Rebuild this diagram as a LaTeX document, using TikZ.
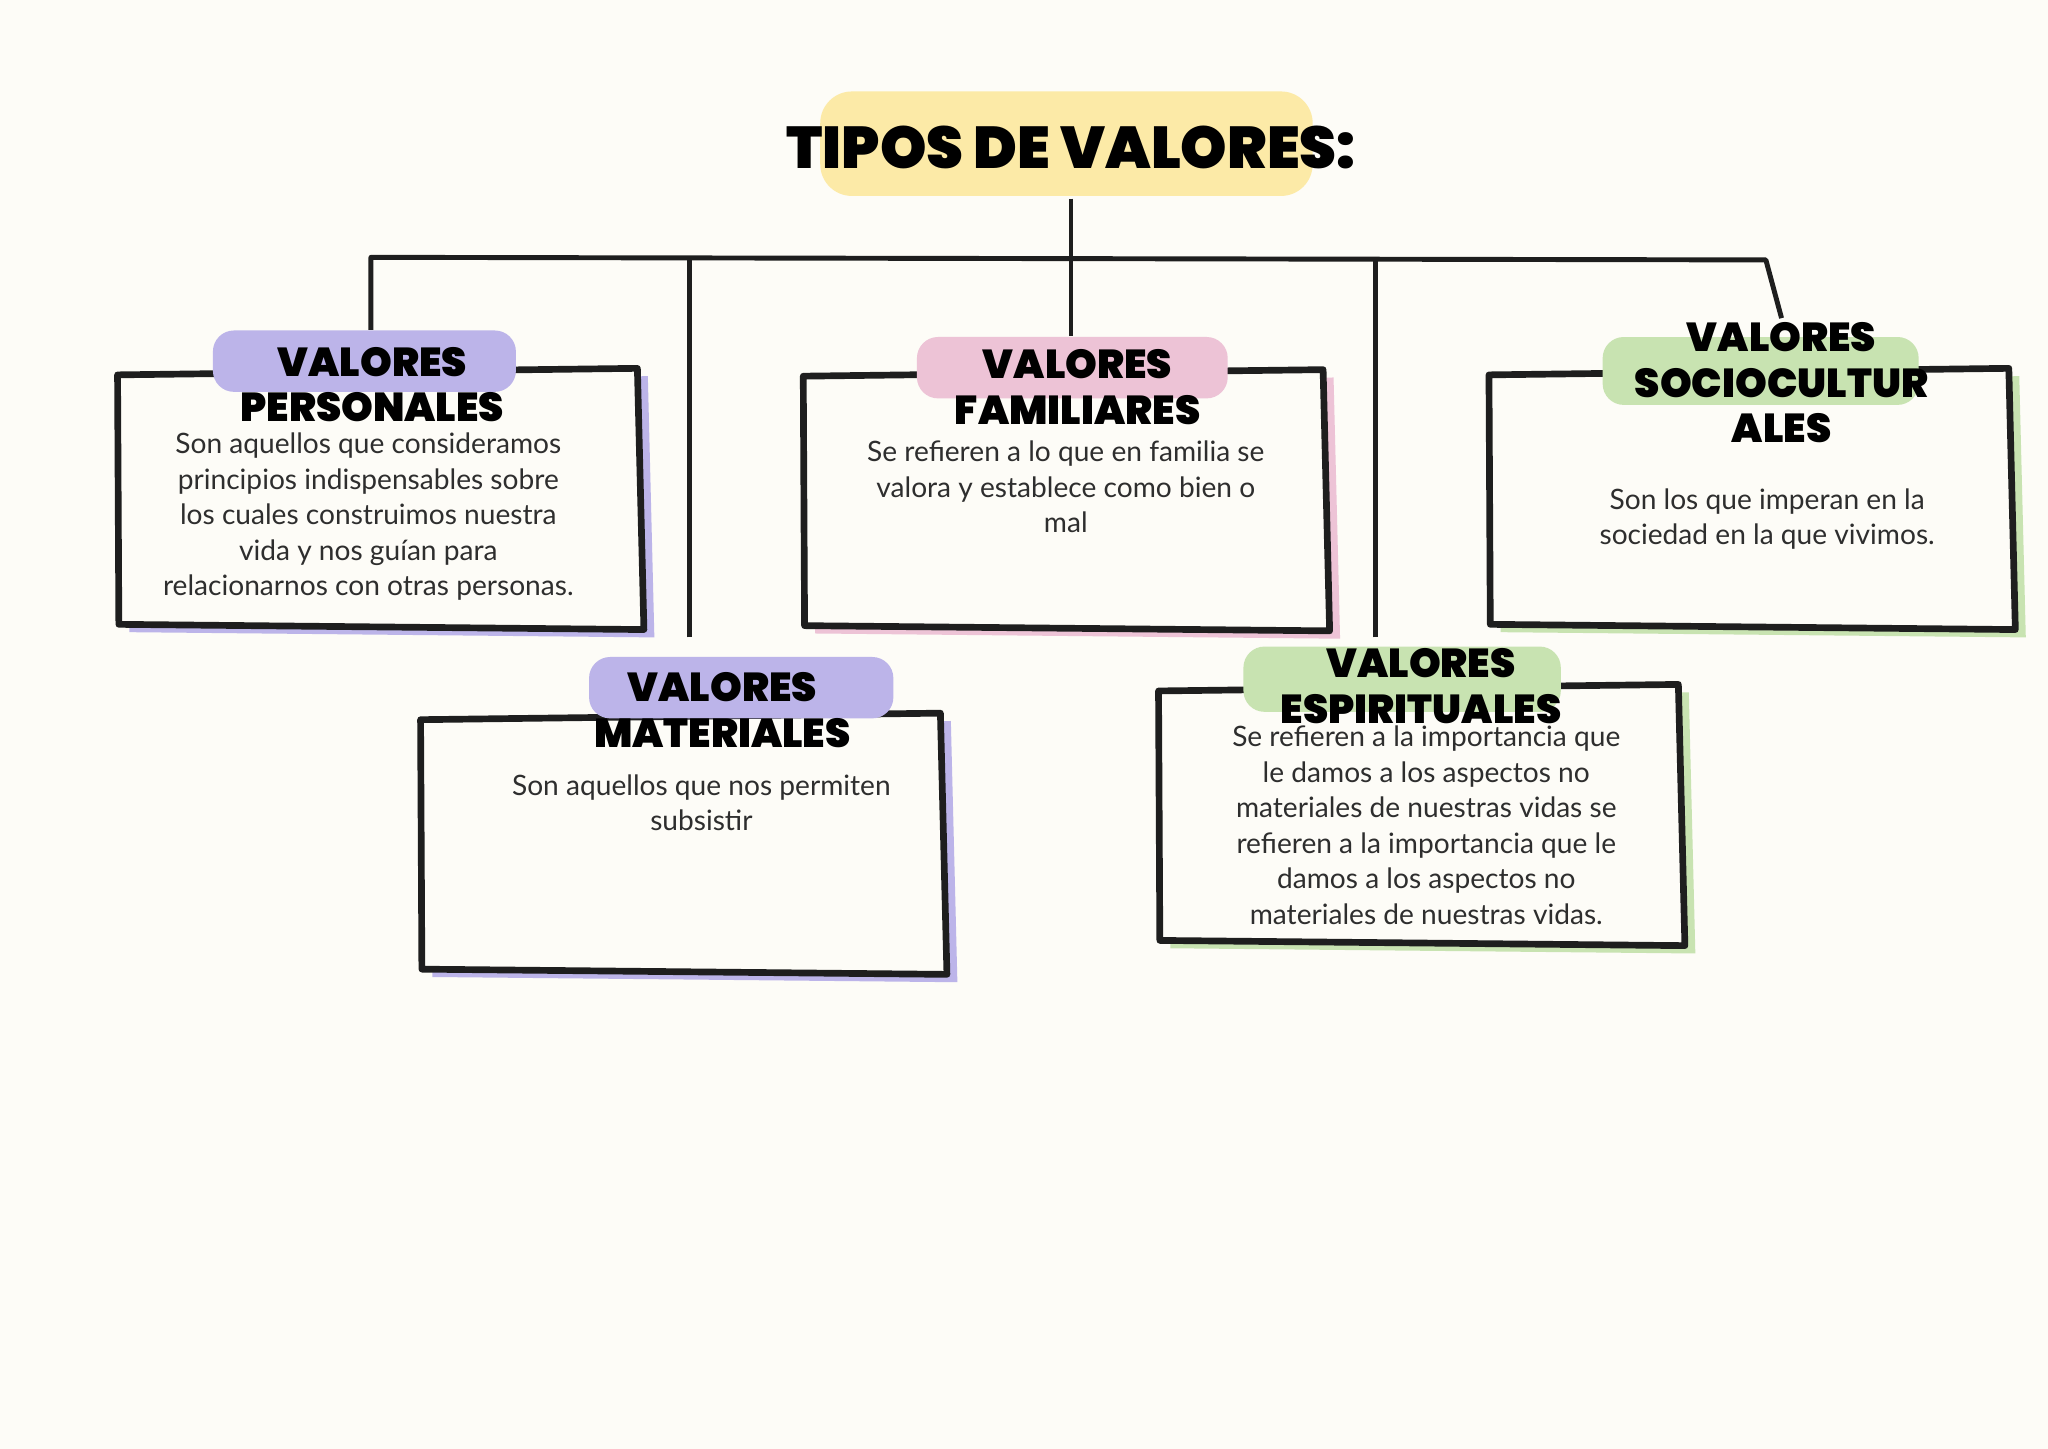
\documentclass[tikz,border=0pt]{standalone}
\usepackage{fontspec}
\setmainfont{Lato}
\newfontfamily\headfont{Poppins Black}
\usetikzlibrary{positioning}

\definecolor{paper}{HTML}{FDFCF7}
\definecolor{ink}{HTML}{1E1E1E}
\definecolor{textgray}{HTML}{2E2E2E}
\definecolor{lilac}{HTML}{BCB4E9}
\definecolor{rose}{HTML}{EDC3D6}
\definecolor{sage}{HTML}{C8E3B1}
\definecolor{butter}{HTML}{FCEAA7}

\begin{document}
\begin{tikzpicture}[x=0.01306cm, y=-0.01306cm, line join=round]
    % Define styles
    \tikzset{
        wire/.style={draw=ink, line width=1.4pt},
        frame/.style={draw=ink, fill=paper, line width=1.9pt},
        blob/.style={rounded corners=6pt, inner sep=0pt, minimum height=0.614cm},
        head/.style={font=\headfont\fontsize{11.5}{13}\selectfont, align=center, inner sep=1pt},
        body/.style={font=\fontsize{8}{10.1}\selectfont, text=textgray, align=center, inner sep=1pt}
    }

    % Page
    \fill[paper] (0,0) rectangle (1568,1109);
    \useasboundingbox (0,0) rectangle (1568,1109);

    % TITLE
    \fill[butter, rounded corners=9pt] (628,70) rectangle (1005,150);
    \node[font=\headfont\fontsize{16.8}{20}\selectfont, inner sep=0pt] (title) at (820,113) {TIPOS DE VALORES:};

    % BOXES (shadow, then frame)
    \begin{scope}[shift={(90,282)}] % personales
        \fill[lilac] (8,11) -- (406,6) -- (411,206) -- (9,202) -- cycle;
        \draw[frame] (0,5) -- (398,0) -- (403,200) -- (1,196) -- cycle;
    \end{scope}
    \begin{scope}[shift={(615,283)}] % familiares
        \fill[rose] (8,11) -- (406,6) -- (411,206) -- (9,202) -- cycle;
        \draw[frame] (0,5) -- (398,0) -- (403,200) -- (1,196) -- cycle;
    \end{scope}
    \begin{scope}[shift={(1140,282)}] % socioculturales
        \fill[sage] (8,11) -- (406,6) -- (411,206) -- (9,202) -- cycle;
        \draw[frame] (0,5) -- (398,0) -- (403,200) -- (1,196) -- cycle;
    \end{scope}
    \begin{scope}[shift={(322,546)}] % materiales
        \fill[lilac] (8,11) -- (406,6) -- (411,206) -- (9,202) -- cycle;
        \draw[frame] (0,5) -- (398,0) -- (403,200) -- (1,196) -- cycle;
    \end{scope}
    \begin{scope}[shift={(887,524)}] % espirituales
        \fill[sage] (8,11) -- (406,6) -- (411,206) -- (9,202) -- cycle;
        \draw[frame] (0,5) -- (398,0) -- (403,200) -- (1,196) -- cycle;
    \end{scope}

    % Label blobs
    \node[blob, fill=lilac, minimum width=3.03cm] (persL) at (279,276.5) {};
    \node[blob, fill=rose, minimum width=3.108cm] (famL) at (821,281.5) {};
    \node[blob, fill=sage, minimum width=3.16cm, minimum height=0.679cm] (socL) at (1348,284) {};
    \node[blob, fill=lilac, minimum width=3.043cm] (matL) at (567.5,526.5) {};
    \node[blob, fill=sage, minimum width=3.174cm, minimum height=0.653cm] (espL) at (1073.5,520) {};

    % Headings
    \node[head] (persT) at (285,294.5) {VALORES\\PERSONALES};
    \node[head] (famT) at (825,296.5) {VALORES\\FAMILIARES};
    \node[head] (socT) at (1364,293) {VALORES\\SOCIOCULTUR\\ALES};
    \node[head] (matT) at (553,543.5) {VALORES\\MATERIALES};
    \node[head] (espT) at (1088,525.5) {VALORES\\ESPIRITUALES};

    % Connectors
    \coordinate (stem) at (820,152);
    \coordinate (barL) at (284,197);
    \coordinate (barR) at (1352,199);
    \coordinate (matEnd) at (528,488);
    \coordinate (espEnd) at (1053,488);
    \draw[wire] (stem) -- (stem |- famL.north);
    \draw[wire] (persL.north -| barL) -- (barL) -- (barR) -- (socT.north);
    \draw[wire] (matEnd) -- (528,197.5);
    \draw[wire] (espEnd) -- (1053,198.5);

    % Body texts
    \node[body] (persB) at (282,395.5) {Son aquellos que consideramos\\principios indispensables sobre\\los cuales construimos nuestra\\vida y nos guían para\\relacionarnos con otras personas.};
    \node[body] (famB) at (816,373) {Se refieren a lo que en familia se\\valora y establece como bien o\\mal};
    \node[body] (socB) at (1353,397.5) {Son los que imperan en la\\sociedad en la que vivimos.};
    \node[body] (matB) at (537,614.5) {Son aquellos que nos permiten\\subsistir};
    \node[body] (espB) at (1092,632) {Se refieren a la importancia que\\le damos a los aspectos no\\materiales de nuestras vidas se\\refieren a la importancia que le\\damos a los aspectos no\\materiales de nuestras vidas.};

\end{tikzpicture}
\end{document}
